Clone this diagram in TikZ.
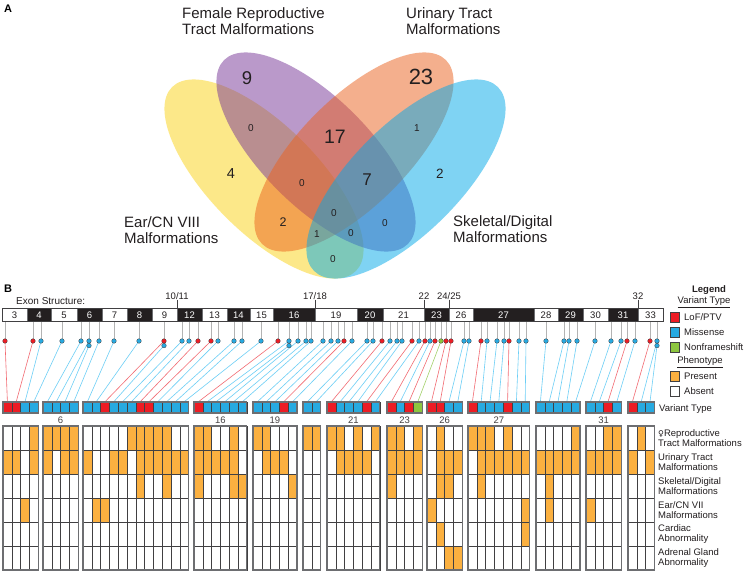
\documentclass[tikz,border=0pt]{standalone}
\usepackage{fontspec}
\setmainfont{Liberation Sans}
\newfontfamily\symfont{DejaVu Sans}
\usetikzlibrary{calc}
\definecolor{txt}{HTML}{231F20}
\definecolor{vYel}{HTML}{FBD315}
\definecolor{vPur}{HTML}{773597}
\definecolor{vOra}{HTML}{EB611D}
\definecolor{vBlu}{HTML}{00A9E9}
\definecolor{colR}{HTML}{ED1C24}
\definecolor{colB}{HTML}{27AAE1}
\definecolor{colG}{HTML}{8DC63F}
\definecolor{colO}{HTML}{FBB040}
\definecolor{lnR}{HTML}{F26B72}
\definecolor{lnB}{HTML}{6DCFF6}
\definecolor{lnG}{HTML}{A3D16B}
\definecolor{stemc}{HTML}{B3B3B3}
\definecolor{edge}{HTML}{414042}
\definecolor{gedge}{HTML}{6D6E71}
\definecolor{exW}{HTML}{FFFFFF}
\definecolor{exK}{HTML}{231F20}
\definecolor{exTW}{HTML}{231F20}
\definecolor{exTK}{HTML}{FFFFFF}
\newcount\cidx
\def\variants{5/0/R,33/0/R,41/0/B,62/0/B,81/0/B,89/0/B,89/1/B,99/0/B,114/0/B,139/0/B,164/0/R,164/1/B,182/0/B,189/0/B,198/0/R,211/0/R,218/0/B,234/0/B,242/0/B,261/0/B,278/0/R,289/0/B,289/1/B,298/0/B,306/0/B,311/0/B,323/0/B,331/0/B,338/0/B,344/0/R,352/0/B,367/0/B,373/0/B,382/0/R,390/0/B,397/0/B,402/0/B,412/0/R,419/0/B,425/0/R,430/0/B,435/0/R,441/0/G,446/0/R,451/0/R,464/0/B,469/0/B,481/0/R,487/0/B,497/0/B,504/0/B,509/0/R,519/0/B,526/0/B,546/0/B,564/0/B,569/0/B,577/0/B,595/0/B,611/0/B,621/0/B,627/0/R,635/0/B,650/0/R,657/0/B,657/1/B}
\def\groups{3/4,43/4,83/12,194/6,253/5,303/2,327/6,387/4,427/4,468/7,536/5,586/4,628/3}
\begin{document}
\begin{tikzpicture}[x=1pt,y=-1pt,
  vlab/.style={font=\fontsize{15}{16}\selectfont, align=left, anchor=north west, inner sep=0pt, text=txt},
  vnum/.style={inner sep=0pt, text=txt},
  lab/.style={font=\fontsize{9.5}{10.2}\selectfont, inner sep=0pt, text=txt},
  plab/.style={font=\bfseries\fontsize{11}{11}\selectfont, anchor=north west, inner sep=0pt, text=black},
  vcell/.style={draw=edge, line width=.5pt, minimum width=8.8pt, minimum height=11pt, inner sep=0pt},
  dotn/.style={circle, draw=edge, line width=.35pt, minimum size=4.6pt, inner sep=0pt},
  stem/.style={draw=stemc, line width=.7pt},
  linkR/.style={draw=lnR, line width=.6pt},
  linkB/.style={draw=lnB, line width=.6pt},
  linkG/.style={draw=lnG, line width=.6pt},
  gridl/.style={draw=edge, line width=.55pt},
  gbox/.style={draw=gedge, line width=1.1pt},
  lbox/.style={draw=edge, line width=.5pt, minimum width=9pt, minimum height=10pt, inner sep=0pt}
]
\useasboundingbox (0,0) rectangle (748,571);
\fill[white] (0,0) rectangle (748,571);

% ---------- Panel A ----------
\node[plab] (pA) at (4,5) {A};
\begin{scope}[fill opacity=0.5]
\fill[vYel, rotate around={-45:(264,179)}] (264,179) ellipse [x radius=130pt, y radius=54pt];
\fill[vPur, rotate around={-45:(316,152)}] (316,152) ellipse [x radius=130pt, y radius=54pt];
\fill[vOra, rotate around={45:(354,152)}] (354,152) ellipse [x radius=130pt, y radius=54pt];
\fill[vBlu, rotate around={45:(406,179)}] (406,179) ellipse [x radius=130pt, y radius=54pt];
\end{scope}
\node[vlab] (tF) at (182,7) {Female Reproductive\\Tract Malformations};
\node[vlab] (tU) at (406,7) {Urinary Tract\\Malformations};
\node[vlab] (tE) at (124,216) {Ear/CN VIII\\Malformations};
\node[vlab] (tS) at (453,215) {Skeletal/Digital\\Malformations};

\node[vnum, font=\fontsize{18.5}{18.5}\selectfont] (n9) at (247,78) {9};
\node[vnum, font=\fontsize{22}{22}\selectfont] (n23) at (421,77) {23};
\node[vnum, font=\fontsize{19.5}{19.5}\selectfont] (n17) at (335,137) {17};
\node[vnum, font=\fontsize{17}{17}\selectfont] (n7) at (367,180) {7};
\node[vnum, font=\fontsize{14.5}{14.5}\selectfont] (n4) at (231,174) {4};
\node[vnum, font=\fontsize{13.5}{13.5}\selectfont] (n2r) at (440,174) {2};
\node[vnum, font=\fontsize{12.5}{12.5}\selectfont] (n2l) at (283,222) {2};
\foreach \x/\y/\t [count=\k] in {251/128/0,417/128/1,302/183/0,334/213/0,317/234/1,351/233/0,385/223/0,333/259/0}
  \node[vnum, font=\fontsize{10}{10}\selectfont] (s\k) at (\x,\y) {\t};

% ---------- Panel B ----------
\node[plab] (pB) at (4,285) {B};
\node[lab, anchor=base west, font=\fontsize{10}{11}\selectfont] (exs) at (16,304.5) {Exon Structure:};

\foreach \a/\b/\l/\c in {2/27/3/W,27/51/4/K,51/77/5/W,77/102/6/K,102/127/7/W,127/152/8/K,152/177/9/W,177/202/12/K,202/227/13/W,227/250/14/K,250/273/15/W,273/315/16/K,315/357/19/W,357/383/20/K,383/424/21/W,424/449/23/K,449/473/26/W,473/534/27/K,534/558/28/W,558/583/29/K,583/608/30/W,608/638/31/K,638/663/33/W}{
  \filldraw[fill=ex\c, draw=gedge, line width=.5pt] (\a,308) rectangle (\b,321);
  \node[lab, text=exT\c] (ex\l) at ({(\a+\b)/2},314.8) {\l};
}
\node[draw=edge, line width=.7pt, minimum width=661pt, minimum height=13pt, inner sep=0pt, anchor=north west] (exbar) at (2,308) {};

\foreach \x/\t/\n in {177/{10/11}/ta,315/{17/18}/tb,424/{22}/tc,449/{24/25}/td,638/{32}/te}{
  \node[lab] (\n) at (\x,296) {\t};
  \draw[draw=edge, line width=.6pt] (\n.south) -- (\n.south |- exbar.north);
}

% cell coordinates
\foreach \s/\n in \groups {
  \foreach \k in {1,...,\n} {
    \global\advance\cidx by 1
    \pgfmathsetmacro\xx{\s+(\k-1)*8.8}
    \coordinate (c\the\cidx) at (\xx,402);
  }
}

% variant cells
\foreach \dx/\st/\ty [count=\i] in \variants {
  \node[vcell, fill=col\ty] (v\i) at ($(c\i)+(4.4,5.5)$) {};
  \coordinate (p\i) at (\dx,{341+4.6*\st});
}
% stems and links
\foreach \dx/\st/\ty [count=\i] in \variants {
  \draw[stem] (p\i) -- (p\i |- exbar.south);
  \draw[link\ty] (p\i) -- (v\i.north);
}
% dots
\foreach \dx/\st/\ty [count=\i] in \variants {
  \node[dotn, fill=col\ty] (d\i) at (p\i) {};
}

% grid fills
\foreach \r/\cols in {1/{4,5,6,7,8,14,15,16,17,18,21,22,25,27,28,32,33,34,35,37,39,40,41,43,45,48,49,50,52,59,62,63,65},
  2/{1,2,4,5,7,8,9,12,13,15,16,17,18,19,20,21,22,23,24,25,28,29,30,35,36,37,38,40,41,42,43,45,46,47,49,50,51,52,53,54,55,56,57,58,59,60,61,62,63,64,66},
  3/{15,18,21,25,26,31,40,45,46,49,56},
  4/{3,10,11,44,54,56,60},
  5/{45,54},
  6/{46,47}}{
  \foreach \i in \cols {
    \fill[colO] (c\i) ++(0,{24*\r}) rectangle ++(8.8,24);
  }
}
% grid lines
\foreach \r in {1,...,6}{
  \foreach \i in {1,...,66}{
    \draw[gridl] (c\i) ++(0,{24*\r}) rectangle ++(8.8,24);
  }
}
% group outlines
\foreach \s/\n in \groups {
  \draw[gbox] (\s,402) rectangle ({\s+\n*8.8},413);
  \draw[gbox] (\s,426) rectangle ({\s+\n*8.8},570);
}

% group labels
\foreach \x/\t/\n in {60.6/6/ga,220.4/16/gb,275/19/gc,353.4/21/gd,404.6/23/ge,444.6/26/gf,498.8/27/gg,603.6/31/gh}
  \node[lab, text=txt!85] (\n) at (\x,420) {\t};

% row labels
\node[lab, anchor=west] (vtl) at (659,409) {Variant Type};
\foreach \t [count=\r] in {{{\symfont\fontsize{8}{8}\selectfont ♀}Reproductive\\Tract Malformations},{Urinary Tract\\Malformations},{Skeletal/Digital\\Malformations},{Ear/CN VII\\Malformations},{Cardiac\\Abnormality},{Adrenal Gland\\Abnormality}}
  \node[lab, anchor=west, align=left] (rl\r) at (658,{426+24*\r-12}) {\t};

% legend
\node[lab, font=\bfseries\fontsize{9.5}{10}\selectfont] (leg) at (709,290) {Legend};
\node[lab] (lvt) at (704,302.5) {\underline{Variant Type}};
\node[lab] (lph) at (700,362) {\underline{Phenotype}};
\foreach \y/\c/\t [count=\k] in {317/colR/LoF\slash PTV,332/colB/Missense,347/colG/Nonframeshift,376/colO/Present,391.5/white/Absent}{
  \node[lbox, fill=\c] (lb\k) at (674.5,\y) {};
  \node[lab, anchor=west] (lt\k) at (684,\y) {\t};
}
\end{tikzpicture}
\end{document}
